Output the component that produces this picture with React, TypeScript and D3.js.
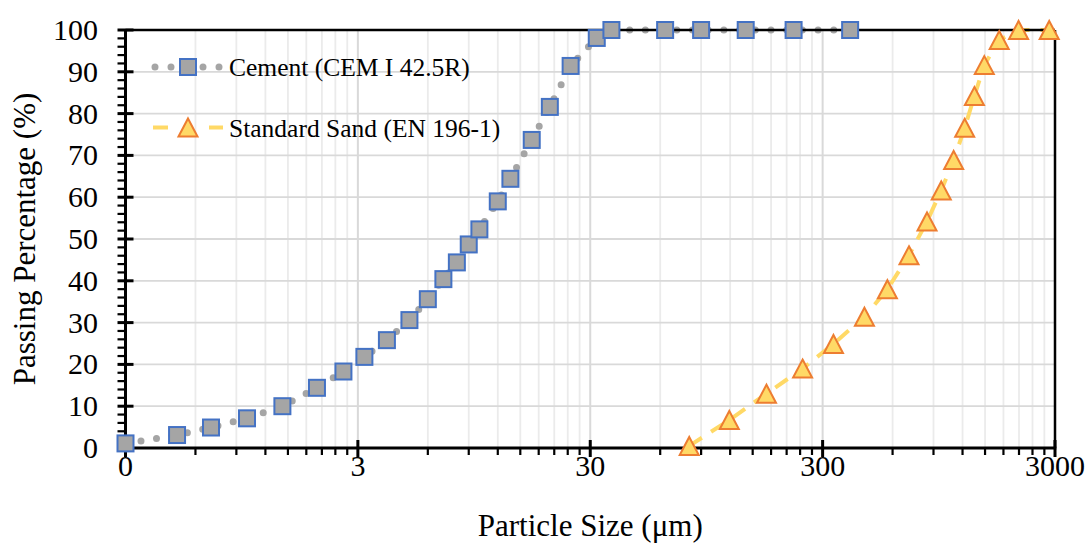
import React from "react";
import * as d3 from "d3";

const cementSize = [0.3, 0.5, 0.7, 1.0, 1.42, 2.0, 2.6, 3.2, 4.0, 5.0, 6.0, 7.0, 8.0, 9.0, 10.0, 12.0, 13.6, 16.8, 20.1, 24.7, 32, 37, 63, 90, 140, 225, 394];
const cementPass = [1.1, 3.1, 4.9, 7.1, 10.0, 14.4, 18.3, 21.8, 25.8, 30.6, 35.6, 40.4, 44.4, 48.7, 52.3, 59.0, 64.4, 73.7, 81.6, 91.4, 98.1, 100, 100, 100, 100, 100, 100];

const sandSize = [80, 119, 172, 246, 334, 454, 570, 706, 844, 972, 1099, 1226, 1350, 1489, 1726, 2091, 2833];
const sandPass = [0.5, 6.7, 13.0, 19.0, 24.9, 31.4, 38.0, 46.1, 54.2, 61.6, 68.9, 76.6, 84.2, 91.6, 97.6, 100, 100];

const xTickValues = [0.3, 3, 30, 300, 3000];
const xTickLabels = ["0", "3", "30", "300", "3000"];
const yTickValues = [0, 10, 20, 30, 40, 50, 60, 70, 80, 90, 100];

const seriesNames = ["Cement (CEM I 42.5R)", "Standard Sand (EN 196-1)"];
const xTitle = "Particle Size (μm)";
const yTitle = "Passing Percentage (%)";

const W = 1089;
const H = 543;
const L = 125.5, R = 1055, T = 30, B = 448;
const FONT = "'Liberation Serif', 'Times New Roman', serif";

const CEM_FILL = "#a5a5a5";
const CEM_STROKE = "#4472c4";
const SAND_FILL = "#ffd966";
const SAND_STROKE = "#ed7d31";

export default function App() {
  const x = d3.scaleLog().domain([0.3, 3000]).range([L, R]);
  const y = d3.scaleLinear().domain([0, 100]).range([B, T]);

  const minorX: number[] = [];
  for (let d = 0; d < 4; d++) {
    const base = 0.3 * Math.pow(10, d);
    for (let k = 2; k <= 9; k++) minorX.push(base * k);
  }
  const minorY: number[] = [];
  for (let v = 0; v <= 100; v += 2) if (v % 10 !== 0) minorY.push(v);

  const line = d3.line<[number, number]>().x((d) => x(d[0])).y((d) => y(d[1]));
  const cemData: [number, number][] = cementSize.map((s, i) => [s, cementPass[i]]);
  const sandData: [number, number][] = sandSize.map((s, i) => [s, sandPass[i]]);

  const sq = 16;
  const tri = (cx: number, cy: number) => {
    const h = 18, w = 19;
    return `M${cx},${cy - h / 2}L${cx + w / 2},${cy + h / 2}L${cx - w / 2},${cy + h / 2}Z`;
  };

  const leg1Y = 67;
  const leg2Y = 127.5;

  return (
    <svg width={W} height={H} style={{ position: "absolute", left: 0, top: 0, background: "#fff" }} fontFamily={FONT}>
      <rect x={0} y={0} width={W} height={H} fill="#fff" />
      {minorX.map((v, i) => (
        <line key={"mx" + i} x1={x(v)} x2={x(v)} y1={T} y2={B} stroke="#ebebeb" strokeWidth={1.8} />
      ))}
      {xTickValues.slice(1, -1).map((v, i) => (
        <line key={"Mx" + i} x1={x(v)} x2={x(v)} y1={T} y2={B} stroke="#d9d9d9" strokeWidth={2} />
      ))}
      {yTickValues.map((v, i) => (
        <line key={"gy" + i} x1={L} x2={R} y1={y(v)} y2={y(v)} stroke="#d9d9d9" strokeWidth={1.8} />
      ))}

      <path d={line(cemData) || ""} fill="none" stroke={CEM_FILL} strokeWidth={7} strokeLinecap="round" strokeDasharray="0 15.7" />
      <path d={line(sandData) || ""} fill="none" stroke={SAND_FILL} strokeWidth={4} strokeDasharray="15 11" />

      <line x1={L} x2={R} y1={T} y2={T} stroke="#000" strokeWidth={2.5} />
      <line x1={R} x2={R} y1={T} y2={B} stroke="#000" strokeWidth={2.5} />

      <line x1={L} x2={L} y1={T - 1} y2={B + 1.5} stroke="#000" strokeWidth={3} />
      <line x1={L - 1.5} x2={R + 1.25} y1={B} y2={B} stroke="#000" strokeWidth={3} />

      {minorY.map((v, i) => (
        <line key={"my" + i} x1={L - 8} x2={L} y1={y(v)} y2={y(v)} stroke="#000" strokeWidth={2.2} />
      ))}
      {yTickValues.map((v, i) => (
        <line key={"My" + i} x1={L - 8} x2={L + 8} y1={y(v)} y2={y(v)} stroke="#000" strokeWidth={3} />
      ))}
      {minorX.map((v, i) => (
        <line key={"mxt" + i} x1={x(v)} x2={x(v)} y1={B} y2={B + 7} stroke="#000" strokeWidth={2.2} />
      ))}
      {xTickValues.map((v, i) => (
        <line key={"Mxt" + i} x1={x(v)} x2={x(v)} y1={B - 8} y2={B + 9} stroke="#000" strokeWidth={3} />
      ))}

      {cemData.map((d, i) => (
        <rect key={"c" + i} x={x(d[0]) - sq / 2} y={y(d[1]) - sq / 2} width={sq} height={sq} fill={CEM_FILL} stroke={CEM_STROKE} strokeWidth={2} />
      ))}
      {sandData.map((d, i) => (
        <path key={"s" + i} d={tri(x(d[0]), y(d[1]))} fill={SAND_FILL} stroke={SAND_STROKE} strokeWidth={2} />
      ))}

      {yTickValues.map((v, i) => (
        <text key={"yl" + i} x={98} y={y(v) + 10} textAnchor="end" fontSize={30} fill="#000">{v}</text>
      ))}
      {xTickValues.map((v, i) => (
        <text key={"xl" + i} x={x(v)} y={476} textAnchor="middle" fontSize={30} fill="#000">{xTickLabels[i]}</text>
      ))}

      <text x={(L + R) / 2} y={536} textAnchor="middle" fontSize={31} fill="#000">{xTitle}</text>
      <text transform={`translate(35,${(T + B) / 2}) rotate(-90)`} textAnchor="middle" fontSize={31} fill="#000">{yTitle}</text>

      <line x1={155} x2={220} y1={leg1Y} y2={leg1Y} stroke={CEM_FILL} strokeWidth={7} strokeLinecap="round" strokeDasharray="0 16" />
      <rect x={188 - sq / 2} y={leg1Y - sq / 2} width={sq} height={sq} fill={CEM_FILL} stroke={CEM_STROKE} strokeWidth={2} />
      <text x={229} y={leg1Y + 9} fontSize={25.5} fill="#000">{seriesNames[0]}</text>

      <line x1={153} x2={168} y1={leg2Y} y2={leg2Y} stroke={SAND_FILL} strokeWidth={4} />
      <line x1={209} x2={223} y1={leg2Y} y2={leg2Y} stroke={SAND_FILL} strokeWidth={4} />
      <path d={tri(188, leg2Y)} fill={SAND_FILL} stroke={SAND_STROKE} strokeWidth={2} />
      <text x={229} y={leg2Y + 9} fontSize={25.5} fill="#000">{seriesNames[1]}</text>
    </svg>
  );
}
